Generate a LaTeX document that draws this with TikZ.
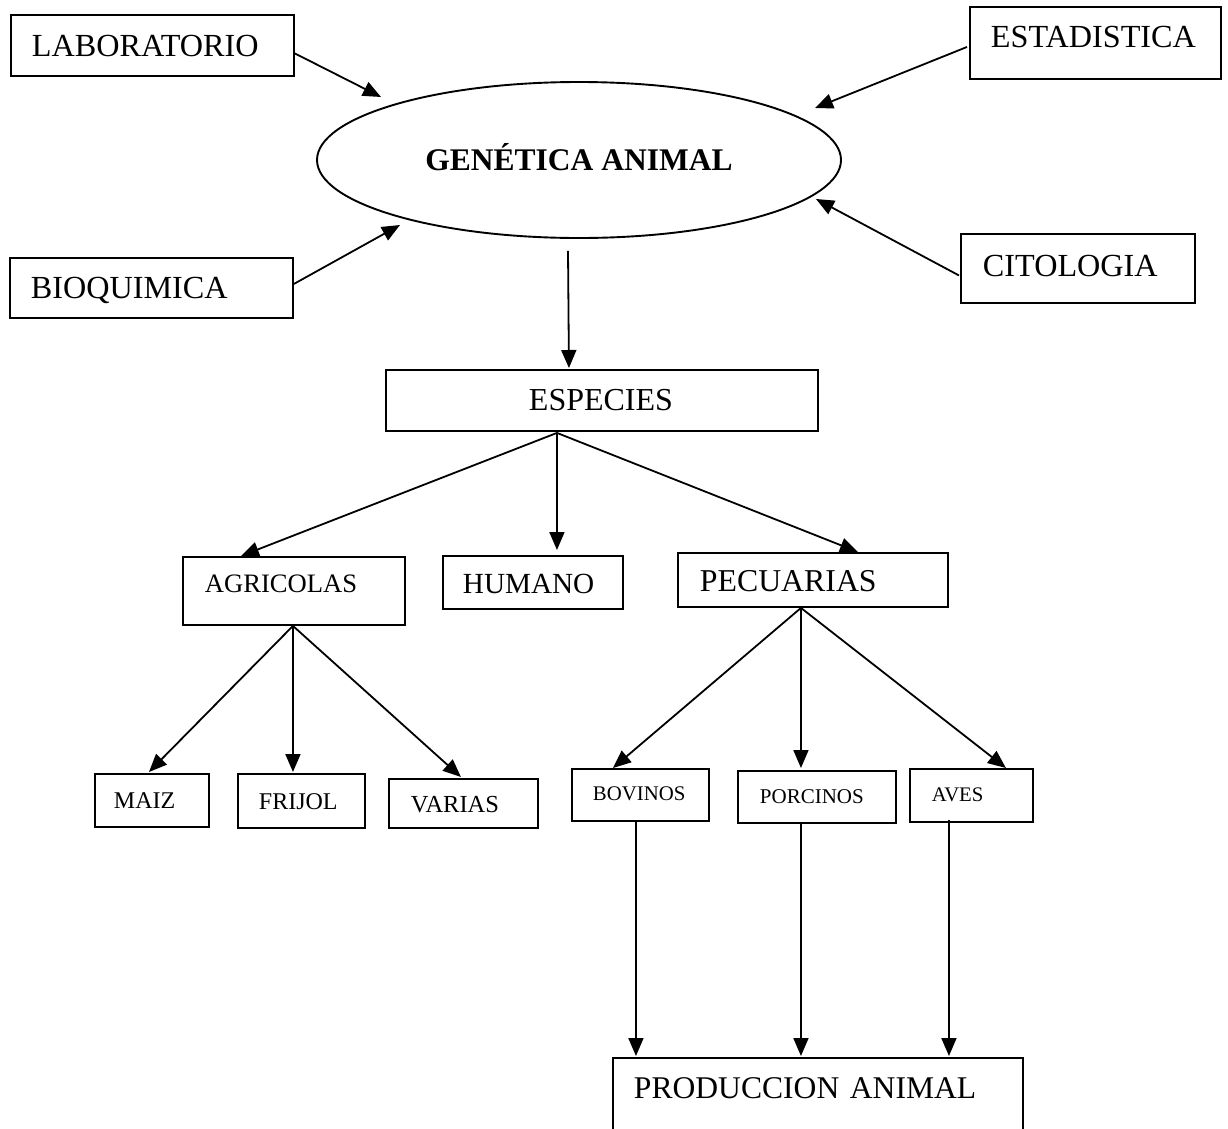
\documentclass[tikz,border=0pt]{standalone}
\usepackage{fontspec}
\setmainfont{Liberation Serif}
\usetikzlibrary{arrows.meta,calc,shapes.geometric}
\begin{document}
\begin{tikzpicture}[x=1pt,y=-1pt,
  bx/.style={draw, rectangle, line width=1.9pt, inner ysep=0pt, align=left, anchor=north west},
  arr/.style={-{Triangle[length=18pt,width=15pt]}, line width=1.8pt},
  fA/.style={font=\fontsize{32.2}{37}\selectfont}]
\useasboundingbox (0,0) rectangle (1228,1128);
\clip (0,0) rectangle (1228,1128);
\fill[white] (0,0) rectangle (1228,1128);

% top nodes
\node[bx, fA, inner xsep=21pt, text width=241pt, text height=42pt, text depth=19pt] (lab) at (10,14) {LABORATORIO};
\node[bx, fA, inner xsep=21pt, text width=209pt, text height=41pt, text depth=31pt] (est) at (969,6) {ESTADISTICA};
\node[bx, fA, inner xsep=21pt, text width=241pt, text height=41pt, text depth=19pt] (bio) at (9,257) {BIOQUIMICA};
\node[bx, fA, inner xsep=22pt, text width=190pt, text height=43pt, text depth=26pt] (cit) at (960,233) {CITOLOGIA};
\node[ellipse, draw, line width=1.9pt, minimum width=524pt, minimum height=156pt, inner sep=0pt,
      text height=21pt, text depth=0pt, font=\bfseries\fontsize{31.5}{36}\selectfont] (ga) at (579,160) {GENÉTICA ANIMAL};

% second level
\node[bx, font=\fontsize{32}{37}\selectfont, inner xsep=143pt, text width=146pt, text height=41pt, text depth=20pt] (esp) at (385,369) {ESPECIES};
\node[bx, font=\fontsize{26.6}{30}\selectfont, inner xsep=22pt, text width=178pt, text height=36pt, text depth=32pt] (agr) at (182,556) {AGRICOLAS};
\node[bx, font=\fontsize{29.2}{33}\selectfont, inner xsep=20pt, text width=140pt, text height=38pt, text depth=15pt] (hum) at (442,555) {HUMANO};
\node[bx, font=\fontsize{31.8}{36}\selectfont, inner xsep=22pt, text width=226pt, text height=39pt, text depth=15pt] (pec) at (677,552) {PECUARIAS};

% third level
\node[bx, font=\fontsize{24}{28}\selectfont, inner xsep=19pt, text width=76pt, text height=35pt, text depth=18pt] (maiz) at (94,773) {MAIZ};
\node[bx, font=\fontsize{24}{28}\selectfont, inner xsep=21pt, text width=85pt, text height=36pt, text depth=18pt] (fri) at (237,773) {FRIJOL};
\node[bx, font=\fontsize{24.5}{28}\selectfont, inner xsep=22pt, text width=105pt, text height=34pt, text depth=15pt] (var) at (388,778) {VARIAS};
\node[bx, font=\fontsize{20.8}{24}\selectfont, inner xsep=21pt, text width=95pt, text height=32pt, text depth=20pt] (bov) at (571,768) {BOVINOS};
\node[bx, font=\fontsize{21}{24}\selectfont, inner xsep=22pt, text width=114pt, text height=33pt, text depth=19pt] (por) at (737,770) {PORCINOS};
\node[bx, font=\fontsize{20.7}{24}\selectfont, inner xsep=22pt, text width=79pt, text height=33pt, text depth=20pt] (aves) at (909,768) {AVES};

% bottom
\node[bx, font=\fontsize{31.6}{36}\selectfont, inner xsep=21pt, text width=368pt, text height=41pt, text depth=42pt] (prod) at (612,1057) {PRODUCCION ANIMAL};

% arrows into ellipse
\draw[arr] ($(lab.east)+(0,8)$) -- ($(ga.center)+(-198,-63)$);
\draw[arr] ($(est.west)+(-2,4)$) -- ($(ga.center)+(236,-52)$);
\draw[arr] ($(bio.east)+(0,-4)$) -- ($(ga.center)+(-179,65)$);
\draw[arr] ($(cit.west)+(-1,7)$) -- ($(ga.center)+(237,39)$);

% ellipse to especies
\draw[arr] ($(ga.south)+(-11,12)$) -- ($(esp.north)+(-33,-1)$);

% especies to second level
\draw[arr] ($(esp.south)+(-45,1)$) -- ($(agr.north)+(-53,0)$);
\draw[arr] ($(esp.south)+(-45,1)$) -- ($(hum.north)+(24,-5)$);
\draw[arr] ($(esp.south)+(-45,1)$) -- ($(pec.north)+(45,0)$);

% agricolas
\draw[arr] ($(agr.south)+(-1,0)$) -- ($(maiz.north)+(-3,-1)$);
\draw[arr] ($(agr.south)+(-1,0)$) -- ($(fri.north)+(-8.5,-1)$);
\draw[arr] ($(agr.south)+(-1,0)$) -- ($(var.north)+(-2.5,-1)$);

% pecuarias
\draw[arr] ($(pec.south)+(-12,0)$) -- ($(bov.north)+(-27.5,0)$);
\draw[arr] ($(pec.south)+(-12,0)$) -- ($(por.north)+(-16,-2)$);
\draw[arr] ($(pec.south)+(-12,0)$) -- ($(aves.north)+(34.5,0)$);

% to produccion
\draw[arr] ($(bov.south)+(-4.5,0)$) -- ($(prod.north)+(-182,-1)$);
\draw[arr] ($(por.south)+(-16,0)$) -- ($(prod.north)+(-17,-1)$);
\draw[arr] ($(aves.south)+(-22.5,-3)$) -- ($(prod.north)+(131,-1)$);
\end{tikzpicture}
\end{document}
